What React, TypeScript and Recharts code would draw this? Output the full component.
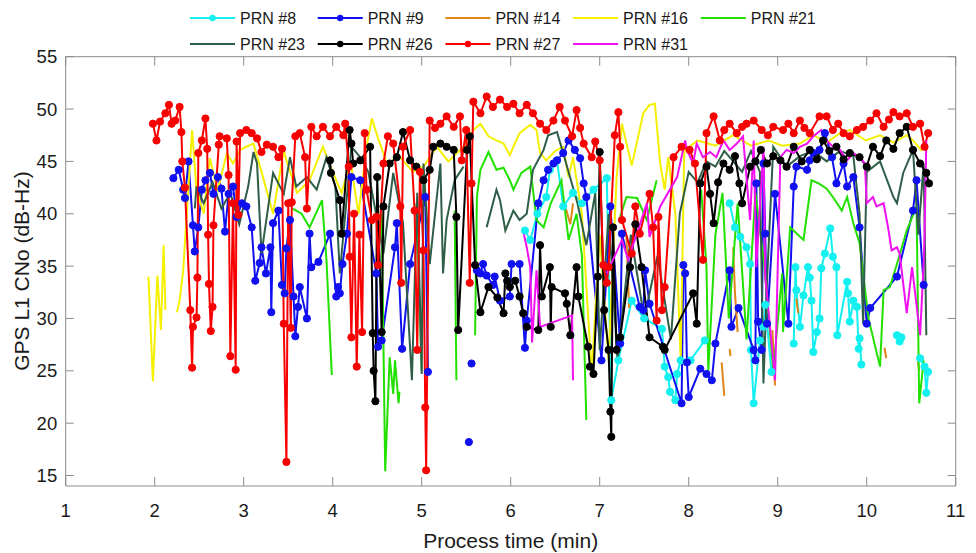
import { LineChart, Line, XAxis, YAxis } from 'recharts';

// [time (min), C/N0 (dB-Hz)]; a null value breaks the trace
type Pt = [number, number | null];

const timeTicks = [1, 2, 3, 4, 5, 6, 7, 8, 9, 10, 11];
const cnoTicks = [15, 20, 25, 30, 35, 40, 45, 50, 55];

const prn8: Pt[] = [
  [6.16, 38.4], [6.22, 37.5], [6.3, 40.0], [6.4, 41.6], [6.44, 44.2], [6.52, 45.1], [6.59, 40.7], [6.7, 42.0],
  [6.8, 41.0], [6.93, 42.3], [7.08, 43.4], [7.13, 22.2], [7.21, 26.0], [7.36, 31.7], [7.5, 30.0], [7.7, 29.0],
  [7.73, 25.4], [7.77, 24.4], [7.79, 23.0], [7.85, 22.2], [7.87, 24.7], [7.91, 26.0], [8.02, 26.0], [8.18, 27.9],
  [8.3, null],
  [8.46, 41.0], [8.52, 38.7], [8.58, 37.8], [8.65, 36.8], [8.69, 35.2], [8.7, 27.0], [8.73, 21.9], [8.8, 27.9],
  [8.84, 29.2], [8.86, 31.3], [8.93, 24.9],
  [9.05, null],
  [9.18, 27.6], [9.2, 34.9], [9.21, 32.7], [9.25, 29.2], [9.29, 32.2], [9.34, 34.9], [9.36, 33.9], [9.38, 31.7],
  [9.4, 26.8], [9.44, 28.7], [9.47, 30.0], [9.49, 34.8], [9.53, 36.2], [9.59, 38.6], [9.62, 35.9], [9.66, 34.9],
  [9.67, 28.4], [9.78, 33.5], [9.79, 32.4], [9.81, 29.7], [9.85, 31.7], [9.89, 31.1], [9.91, 27.1], [9.92, 28.1],
  [9.94, 25.6],
  [10.1, null],
  [10.34, 28.4], [10.37, 27.8], [10.39, 28.2],
  [10.5, null],
  [10.6, 26.2], [10.65, 25.4], [10.67, 22.9], [10.69, 24.9],
];

const prn9: Pt[] = [
  [2.21, 43.4], [2.27, 44.2], [2.32, 42.3], [2.34, 41.5], [2.38, 45.0], [2.43, 38.9], [2.45, 36.4], [2.49, 38.7],
  [2.53, 42.3], [2.57, 43.2], [2.62, 43.9], [2.66, 41.9], [2.71, 43.5], [2.75, 42.4], [2.79, 38.3], [2.83, 41.9],
  [2.88, 42.6], [2.92, 39.7], [2.98, 41.0], [3.03, 40.7], [3.09, 38.7], [3.13, 33.6], [3.18, 35.3], [3.2, 36.8],
  [3.25, 34.3], [3.3, 36.8], [3.31, 30.6], [3.33, 39.1], [3.39, 40.3], [3.43, 33.2], [3.46, 32.4], [3.48, 36.7],
  [3.52, 39.4], [3.56, 32.1], [3.58, 28.3], [3.61, 31.1], [3.63, 33.0], [3.71, 30.0], [3.74, 38.1], [3.76, 34.9],
  [3.84, 35.4], [3.97, 38.1], [4.04, 32.1], [4.06, 33.0], [4.08, 32.4], [4.11, 35.2], [4.16, 38.1], [4.21, 43.5],
  [4.31, 43.2], [4.49, 34.3], [4.51, 27.3], [4.55, 27.9], [4.7, 36.8], [4.72, 39.1], [4.78, 27.1], [4.87, 35.2],
  [5.04, 41.6], [5.07, 24.9],
  [5.3, null],
  [5.62, 34.6], [5.66, 34.3], [5.69, 35.2], [5.73, 34.1], [5.8, 33.2], [5.82, 34.0], [5.88, 31.7], [5.99, 32.1],
  [6.01, 35.2], [6.1, 35.2], [6.16, 27.2], [6.18, 29.8], [6.31, 41.0], [6.37, 43.2], [6.42, 44.2], [6.48, 44.8],
  [6.52, 45.1], [6.59, 45.8], [6.65, 47.0], [6.72, 46.1], [6.78, 45.3], [6.82, 42.9], [6.85, 41.6], [7.02, 26.0],
  [7.12, 40.7], [7.23, 27.6], [7.25, 38.1], [7.45, 31.1], [7.49, 30.8], [7.51, 34.6], [7.56, 31.4], [7.92, 21.9],
  [7.94, 35.1], [7.96, 34.3], [7.98, 25.8], [8.0, 22.5], [8.13, 25.2], [8.2, 24.7], [8.26, 24.1], [8.3, 27.6],
  [8.46, 34.6], [8.48, 29.2], [8.56, 31.0], [8.73, 27.0], [8.75, 26.0], [8.76, 42.9], [8.78, 29.7], [8.82, 27.0],
  [8.84, 44.8], [8.86, 38.1], [8.88, 29.5], [8.97, 41.9], [9.12, 29.5], [9.18, 42.6], [9.21, 44.5], [9.33, 44.2],
  [9.36, 45.1], [9.4, 45.8], [9.47, 46.1], [9.53, 47.7], [9.61, 45.4], [9.66, 42.9], [9.74, 44.8], [9.78, 42.6],
  [9.85, 43.5], [9.92, 38.7], [10.0, 29.5], [10.04, 31.0], [10.34, 34.0], [10.52, 40.3], [10.56, 43.2], [10.64, 33.2],
];
// single isolated PRN #9 samples
const prn9Lone: Pt[] = [[5.53, 18.2], [5.56, 25.7]];

const prn14: Pt[] = [
  [6.62, 40.5], [6.67, 39.0], [6.7, 41.0], [6.9, null],
  [7.3, 38.0], [7.33, 31.0], [7.5, null],
  [8.37, 25.8], [8.4, 22.6], [8.43, null],
  [8.46, 27.1], [8.47, 26.4], [8.49, null],
  [8.5, 36.8], [8.52, 32.4], [8.55, 28.7], [8.7, null],
  [8.94, 28.9], [8.97, 23.6], [9.1, null],
  [9.21, 31.9], [9.23, 30.5], [9.5, null],
  [10.2, 27.2], [10.22, 26.2], [10.4, null],
  [10.57, 26.3], [10.59, 25.0],
];

const prn16: Pt[] = [
  [1.93, 34.0], [1.98, 24.0], [2.03, 34.1], [2.07, 28.9], [2.1, 37.0], [2.12, 30.8], [2.18, null],
  [2.25, 30.6], [2.28, 31.7], [2.32, 34.6], [2.42, 48.0], [2.47, 42.3], [2.55, 40.0], [2.62, 45.3], [2.68, 43.2],
  [2.71, 42.3], [2.81, 45.8], [2.88, 44.8], [2.96, 46.1], [3.03, 46.4], [3.11, 46.7], [3.2, 44.0], [3.33, 40.0],
  [3.45, 46.1], [3.48, 45.1], [3.6, 42.0], [3.74, 43.2], [3.89, 46.4], [4.0, 44.0], [4.1, 42.0], [4.2, 45.0],
  [4.29, 40.0], [4.38, 46.4], [4.44, 49.1], [4.51, 47.2], [4.61, 44.8], [4.75, 45.5], [4.9, 44.0], [5.02, 44.5],
  [5.17, 46.4], [5.3, 45.0], [5.47, 46.4], [5.58, 48.0], [5.66, 48.6], [5.75, 47.4], [5.84, 47.0], [5.92, 46.7],
  [5.99, 45.6], [6.03, 46.4], [6.1, 47.7], [6.22, 48.5], [6.29, 48.0], [6.33, 45.8], [6.4, 45.1], [6.5, 46.0],
  [6.59, 46.4], [6.65, 43.5], [6.7, 45.4], [6.8, 40.0], [6.91, 24.7], [7.0, 38.0], [7.1, 26.0], [7.19, 43.5],
  [7.25, 48.6], [7.36, 44.6], [7.49, 49.6], [7.56, 50.4], [7.62, 50.5], [7.68, 44.8], [7.73, 42.3], [7.77, 45.4],
  [7.85, 40.0], [7.91, 26.0], [7.95, 46.0], [8.1, 47.0], [8.3, 46.5], [8.5, 47.5], [8.7, 46.5], [8.9, 47.0],
  [9.05, 46.5], [9.25, 46.7], [9.4, 47.5], [9.55, 46.8], [9.7, 47.7], [9.81, 48.0], [9.99, 47.0], [10.15, 47.5],
  [10.3, 46.8], [10.45, 47.5], [10.52, 47.0], [10.62, 46.0],
];

const prn21: Pt[] = [
  [3.55, 40.5], [3.65, 40.0], [3.74, 38.7], [3.88, 41.3], [3.93, 35.6], [3.99, 24.6], [4.2, null],
  [4.55, 40.0], [4.59, 15.4], [4.64, 26.3], [4.68, 22.8], [4.7, 26.0], [4.74, 21.9], [4.75, 23.0], [4.85, null],
  [4.94, 41.0], [5.0, 25.0], [5.2, null],
  [5.37, 40.3], [5.39, 24.1], [5.5, null],
  [5.6, 28.4], [5.62, 41.6], [5.66, 44.2], [5.75, 45.9], [5.84, 44.2], [5.92, 44.4], [5.99, 43.2], [6.03, 42.3],
  [6.12, 43.9], [6.22, 44.5], [6.29, 39.4], [6.37, 38.7], [6.45, 41.0], [6.57, 43.2], [6.65, 37.5], [6.74, 40.0],
  [6.8, 36.0], [6.85, 20.3], [7.0, null],
  [7.23, 39.7], [7.3, 41.6], [7.42, 41.5], [7.53, 39.4], [7.64, 43.2], [7.9, null],
  [8.14, 42.3], [8.2, 34.9], [8.22, 25.0], [8.3, 38.0], [8.38, 42.0], [8.45, 30.0], [8.55, 41.0], [8.65, 28.0],
  [8.75, 42.0], [8.85, 35.0], [8.95, 25.0], [9.05, 34.3], [9.06, 28.7], [9.14, 38.7], [9.29, 37.5], [9.38, 43.2],
  [9.46, 42.9], [9.55, 42.4], [9.62, 41.6], [9.72, 40.3], [9.78, 41.6], [9.85, 39.1], [9.92, 37.2], [10.02, 30.0],
  [10.15, 25.4], [10.19, 32.7], [10.26, 33.0], [10.34, 35.2], [10.45, 38.4], [10.56, 40.7], [10.59, 21.9], [10.64, 26.0],
];

const prn23: Pt[] = [
  [2.45, 40.5], [2.47, 42.6], [2.55, 41.0], [2.65, 43.0], [2.75, 40.5], [2.85, 42.0], [2.95, 39.0], [3.05, 42.6],
  [3.11, 45.9], [3.15, 44.8], [3.2, 36.2], [3.33, 43.9], [3.45, 41.9], [3.52, 45.4], [3.59, 42.6], [3.71, 43.5],
  [3.82, 42.3], [3.93, 45.4], [4.03, 42.6], [4.08, 34.3], [4.21, 46.4], [4.31, 45.4], [4.4, 44.0], [4.57, 36.2],
  [4.68, 43.9], [4.79, 39.1], [4.89, 24.1], [4.95, 42.0], [5.0, 24.7], [5.02, 44.8], [5.09, 35.2], [5.21, 44.8],
  [5.24, 34.3], [5.28, 39.4], [5.37, 43.2], [5.47, 44.5], [5.6, null],
  [5.73, 38.7], [5.84, 42.3], [5.88, 41.3], [5.94, 38.4], [6.03, 40.3], [6.1, 39.4], [6.18, 40.0], [6.25, 44.2],
  [6.37, 46.1], [6.42, 47.5], [6.52, 47.8], [6.6, 45.5], [6.75, 41.0], [6.85, 37.0], [6.95, 42.0], [7.0, 27.0],
  [7.1, 40.0], [7.2, 26.0], [7.35, 38.0], [7.5, 30.0], [7.65, 36.0], [7.8, 28.0], [7.9, 40.0], [8.0, 44.0],
  [8.1, 43.0], [8.2, 45.0], [8.3, 44.5], [8.4, 46.0], [8.5, 45.0], [8.6, 44.0], [8.7, 46.0], [8.8, 44.0],
  [8.84, 23.8], [8.88, 33.6], [8.95, 46.4], [9.1, 44.5], [9.25, 45.5], [9.4, 46.0], [9.55, 45.0], [9.7, 46.0],
  [9.85, 45.5], [9.92, 40.0], [9.96, 29.5], [10.0, 44.0], [10.15, 45.0], [10.3, 41.6], [10.34, 41.0], [10.41, 43.9],
  [10.52, 46.1], [10.58, 38.0], [10.64, 44.8], [10.67, 28.4],
];

const prn26: Pt[] = [
  [3.97, 45.1], [3.98, 43.9], [4.08, 41.3], [4.1, 38.1], [4.19, 48.0], [4.21, 46.7], [4.23, 44.8], [4.31, 45.1],
  [4.42, 46.4], [4.45, 28.6], [4.46, 25.0], [4.48, 22.1], [4.5, 43.5], [4.55, 28.7], [4.57, 40.7], [4.64, 44.8],
  [4.72, 45.4], [4.79, 47.8], [4.87, 45.1], [4.94, 44.5], [5.02, 43.2], [5.09, 44.2], [5.13, 46.4], [5.21, 46.7],
  [5.28, 46.4], [5.36, 46.1], [5.39, 39.7], [5.41, 28.9], [5.51, 46.1], [5.54, 47.4], [5.6, 35.1], [5.66, 30.6],
  [5.75, 33.0], [5.85, 32.0], [5.92, 30.5], [5.94, 34.3], [5.96, 33.6], [5.99, 33.0], [6.05, 33.6], [6.1, 32.1],
  [6.14, 30.5], [6.18, 29.2], [6.31, 28.9], [6.33, 37.0], [6.35, 32.1], [6.44, 34.9], [6.45, 29.2], [6.46, 33.0],
  [6.61, 32.4], [6.63, 31.4], [6.67, 28.4], [6.74, 34.9], [6.76, 32.1], [6.87, 27.3], [6.89, 25.4], [6.93, 24.7],
  [6.98, 34.0], [7.0, 45.9], [7.05, 30.8], [7.1, 27.0], [7.12, 21.1], [7.13, 18.7], [7.15, 38.7], [7.19, 27.0],
  [7.23, 28.2], [7.34, 34.9], [7.4, 39.0], [7.47, 34.9], [7.56, 28.2], [7.71, 27.3], [7.73, 27.0], [8.05, 32.4],
  [8.09, 29.5], [8.13, 42.9], [8.2, 44.5], [8.24, 41.9], [8.28, 39.1], [8.33, 43.0], [8.39, 44.8], [8.46, 44.2],
  [8.52, 45.5], [8.57, 42.9], [8.6, 41.0], [8.69, 44.5], [8.75, 45.0], [8.81, 46.1], [8.88, 44.8], [8.95, 45.5],
  [9.03, 45.1], [9.1, 44.5], [9.18, 46.4], [9.27, 45.0], [9.36, 46.1], [9.44, 45.2], [9.51, 47.0], [9.58, 46.0],
  [9.66, 46.4], [9.74, 45.2], [9.81, 45.8], [9.92, 45.4], [10.0, 44.5], [10.07, 46.4], [10.15, 45.5], [10.22, 47.0],
  [10.3, 46.2], [10.37, 47.7], [10.45, 48.3], [10.52, 46.1], [10.6, 44.8], [10.67, 43.9], [10.7, 42.9],
];

const prn27: Pt[] = [
  [1.98, 48.6], [2.02, 47.0], [2.06, 48.8], [2.12, 49.6], [2.16, 50.4], [2.19, 48.6], [2.23, 48.9], [2.28, 50.2],
  [2.3, 47.8], [2.31, 45.0], [2.34, 42.5], [2.4, 30.8], [2.42, 25.3], [2.43, 29.2], [2.47, 30.1], [2.48, 33.9],
  [2.49, 45.8], [2.53, 47.0], [2.57, 49.1], [2.59, 46.2], [2.6, 38.0], [2.61, 33.3], [2.63, 28.8], [2.65, 31.1],
  [2.66, 38.9], [2.72, 46.6], [2.73, 47.4], [2.81, 47.2], [2.83, 43.7], [2.85, 26.4], [2.88, 41.0], [2.91, 25.1],
  [2.92, 46.9], [2.94, 39.9], [2.96, 47.7], [3.03, 48.0], [3.09, 47.7], [3.15, 47.2], [3.2, 45.9], [3.26, 46.6],
  [3.33, 46.4], [3.39, 45.4], [3.43, 46.2], [3.45, 29.5], [3.48, 16.3], [3.5, 41.0], [3.53, 29.1], [3.54, 41.1],
  [3.58, 47.4], [3.63, 47.7], [3.69, 45.4], [3.71, 40.5], [3.76, 48.3], [3.82, 47.4], [3.89, 48.3], [3.97, 47.4],
  [4.04, 48.3], [4.12, 47.5], [4.14, 48.6], [4.18, 44.5], [4.19, 35.9], [4.21, 28.2], [4.24, 40.0], [4.27, 25.4],
  [4.3, 38.0], [4.33, 28.7], [4.36, 47.7], [4.38, 42.3], [4.44, 39.4], [4.49, 39.7], [4.51, 35.1], [4.57, 44.8],
  [4.62, 47.4], [4.68, 46.7], [4.76, 40.7], [4.77, 33.4], [4.79, 46.4], [4.87, 48.0], [4.92, 40.3], [4.95, 27.0],
  [4.98, 44.0], [5.02, 36.5], [5.04, 21.5], [5.05, 15.5], [5.09, 48.9], [5.15, 48.2], [5.21, 48.6], [5.28, 49.3],
  [5.36, 48.3], [5.43, 49.3], [5.45, 45.1], [5.5, 48.0], [5.54, 33.4], [5.56, 42.9], [5.58, 50.7], [5.66, 49.6],
  [5.73, 51.2], [5.8, 50.2], [5.88, 50.9], [5.96, 50.2], [6.03, 50.5], [6.1, 49.6], [6.18, 50.4], [6.25, 49.6],
  [6.33, 48.6], [6.4, 48.0], [6.48, 48.9], [6.55, 50.2], [6.61, 48.9], [6.69, 47.4], [6.74, 49.9], [6.78, 48.2],
  [6.82, 46.7], [6.91, 45.4], [6.95, 46.9], [7.0, 45.1], [7.04, 35.1], [7.08, 33.4], [7.1, 34.9], [7.17, 47.5],
  [7.21, 49.7], [7.23, 46.4], [7.25, 39.4], [7.36, 36.2], [7.4, 40.7], [7.45, 38.1], [7.56, 41.9], [7.6, 38.7],
  [7.64, 29.8], [7.66, 39.7], [7.7, 30.8], [7.73, 33.0], [7.83, 45.4], [7.92, 46.4], [8.01, 46.1], [8.07, 44.8],
  [8.16, 35.6], [8.2, 47.7], [8.28, 49.3], [8.35, 47.0], [8.4, 48.0], [8.46, 48.6], [8.54, 47.7], [8.6, 48.3],
  [8.65, 48.6], [8.73, 48.9], [8.82, 48.0], [8.89, 47.5], [8.95, 48.3], [9.06, 48.0], [9.12, 48.6], [9.18, 47.7],
  [9.25, 48.9], [9.3, 48.2], [9.36, 47.7], [9.47, 49.3], [9.55, 49.3], [9.62, 48.0], [9.68, 48.6], [9.74, 47.7],
  [9.81, 47.4], [9.89, 48.0], [9.96, 48.3], [10.04, 48.9], [10.11, 49.6], [10.19, 48.3], [10.25, 49.0], [10.3, 49.7],
  [10.37, 49.3], [10.45, 49.6], [10.52, 48.3], [10.6, 48.6], [10.65, 46.4], [10.69, 47.7],
];

const prn31: Pt[] = [
  [6.14, 38.4], [6.18, 36.8], [6.22, 34.9], [6.24, 27.7], [6.29, 34.6], [6.33, 29.2], [6.69, 30.3], [6.7, 24.1],
  [6.9, null],
  [7.08, 34.3], [7.25, 37.5], [7.32, 35.6], [7.53, 41.0], [7.56, 37.8], [7.68, 40.7], [7.87, 43.5], [7.96, 47.0],
  [7.98, 46.1], [8.05, 44.8], [8.09, 46.7], [8.16, 45.4], [8.24, 45.9], [8.31, 45.4], [8.39, 47.0], [8.46, 46.1],
  [8.54, 46.7], [8.61, 47.4], [8.69, 39.4], [8.73, 47.0], [8.76, 34.9], [8.84, 46.4], [8.86, 34.0], [8.89, 31.3],
  [8.97, 24.1], [9.03, 45.4], [9.1, 46.1], [9.18, 45.8], [9.25, 46.4], [9.33, 46.7], [9.4, 47.4], [9.49, 48.0],
  [9.55, 47.0], [9.62, 46.4], [9.7, 46.1], [9.78, 45.1], [9.85, 45.8], [9.92, 45.4], [9.98, 44.8], [10.0, 41.0],
  [10.07, 41.6], [10.11, 40.7], [10.19, 41.0], [10.24, 38.7], [10.28, 36.5], [10.34, 36.8], [10.37, 36.2], [10.45, 30.5],
  [10.51, 34.9], [10.6, 28.4], [10.64, 35.2], [10.65, 38.1], [10.67, 47.0],
];

const SERIES = [
  { name: 'PRN #8', pts: prn8, color: '#14f0f0', marker: true },
  { name: 'PRN #9', pts: prn9, color: '#1010f0', marker: true },
  { name: 'PRN #14', pts: prn14, color: '#e0861a', marker: false },
  { name: 'PRN #16', pts: prn16, color: '#f4f000', marker: false },
  { name: 'PRN #21', pts: prn21, color: '#22e000', marker: false },
  { name: 'PRN #23', pts: prn23, color: '#2f5e48', marker: false },
  { name: 'PRN #26', pts: prn26, color: '#000000', marker: true },
  { name: 'PRN #27', pts: prn27, color: '#f80000', marker: true },
  { name: 'PRN #31', pts: prn31, color: '#f010f0', marker: false },
];

const AXIS = '#8c8c8c';
const TEXT = '#1a1a1a';
const FONT = '"Liberation Sans", Arial, sans-serif';
const MARK_R = 3.6;

const rows = (pts: Pt[]) => pts.map(([t, v]) => ({ t, v }));

const BottomTick = ({ x, y, payload }: any) => (
  <g>
    <line x1={x} y1={y} x2={x} y2={y - 9} stroke={AXIS} />
    <text x={x} y={y + 30.5} textAnchor="middle" fontSize={18.5} fill={TEXT} fontFamily={FONT}>
      {payload.value}
    </text>
  </g>
);
const TopTick = ({ x, y }: any) => <line x1={x} y1={y} x2={x} y2={y + 9} stroke={AXIS} />;
const LeftTick = ({ x, y, payload }: any) => (
  <g>
    <line x1={x} y1={y} x2={x + 8} y2={y} stroke={AXIS} />
    <text x={x - 8.5} y={y + 6.6} textAnchor="end" fontSize={18.5} fill={TEXT} fontFamily={FONT}>
      {payload.value}
    </text>
  </g>
);
const RightTick = ({ x, y }: any) => <line x1={x} y1={y} x2={x - 8} y2={y} stroke={AXIS} />;

export default function App() {
  return (
    <div style={{ position: 'absolute', left: 0, top: 0, width: 976, height: 553, background: '#fff' }}>
      <LineChart width={976} height={553} margin={{ top: 55.7, right: 19.3, bottom: 66, left: 64.7 }}>
        <XAxis
          xAxisId="bottom"
          type="number"
          dataKey="t"
          domain={[1, 11]}
          ticks={timeTicks}
          allowDataOverflow
          height={1}
          tickSize={0}
          tickMargin={0}
          tickLine={false}
          axisLine={{ stroke: AXIS }}
          tick={BottomTick}
          interval={0}
        />
        <XAxis
          xAxisId="top"
          orientation="top"
          type="number"
          dataKey="t"
          domain={[1, 11]}
          ticks={timeTicks}
          allowDataOverflow
          height={1}
          tickSize={0}
          tickMargin={0}
          tickLine={false}
          axisLine={{ stroke: AXIS }}
          tick={TopTick}
          interval={0}
        />
        <YAxis
          yAxisId="left"
          type="number"
          domain={[14, 55]}
          ticks={cnoTicks}
          allowDataOverflow
          width={1}
          tickSize={0}
          tickMargin={0}
          tickLine={false}
          axisLine={{ stroke: AXIS }}
          tick={LeftTick}
          interval={0}
        />
        <YAxis
          yAxisId="right"
          orientation="right"
          type="number"
          domain={[14, 55]}
          ticks={cnoTicks}
          allowDataOverflow
          width={1}
          tickSize={0}
          tickMargin={0}
          tickLine={false}
          axisLine={{ stroke: AXIS }}
          tick={RightTick}
          interval={0}
        />
        {SERIES.map((s) => (
          <Line
            key={s.name}
            name={s.name}
            data={rows(s.pts)}
            dataKey="v"
            xAxisId="bottom"
            yAxisId="left"
            type="linear"
            stroke={s.color}
            strokeWidth={2}
            dot={s.marker ? { r: MARK_R, fill: s.color, stroke: s.color, strokeWidth: 1 } : false}
            activeDot={false}
            connectNulls={false}
            isAnimationActive={false}
          />
        ))}
        <Line
          key="prn9-lone"
          name="PRN #9 isolated"
          data={rows(prn9Lone).flatMap((r) => [r, { t: r.t + 0.005, v: null }])}
          dataKey="v"
          xAxisId="bottom"
          yAxisId="left"
          stroke="#1010f0"
          strokeWidth={2}
          dot={{ r: MARK_R, fill: '#1010f0', stroke: '#1010f0', strokeWidth: 1 }}
          activeDot={false}
          isAnimationActive={false}
        />
      </LineChart>
      <svg
        width={976}
        height={553}
        style={{ position: 'absolute', left: 0, top: 0, pointerEvents: 'none' }}
      >
        {SERIES.map((s, i) => {
          const col = i < 5 ? i : i - 5;
          const cy = i < 5 ? 18 : 44;
          const x0 = 190 + col * 127.7;
          return (
            <g key={s.name}>
              <line x1={x0} y1={cy} x2={x0 + 45} y2={cy} stroke={s.color} strokeWidth={2.2} />
              {s.marker && <circle cx={x0 + 22.5} cy={cy} r={3.2} fill={s.color} />}
              <text x={x0 + 50} y={cy + 5.8} fontSize={16} fill={TEXT} fontFamily={FONT}>
                {s.name}
              </text>
            </g>
          );
        })}
        <text x={510.7} y={548} textAnchor="middle" fontSize={21} fill={TEXT} fontFamily={FONT}>
          Process time (min)
        </text>
        <text
          x={0}
          y={0}
          transform="translate(29,271) rotate(-90)"
          textAnchor="middle"
          fontSize={21}
          fill={TEXT}
          fontFamily={FONT}
        >
          GPS L1 CNo (dB-Hz)
        </text>
      </svg>
    </div>
  );
}
